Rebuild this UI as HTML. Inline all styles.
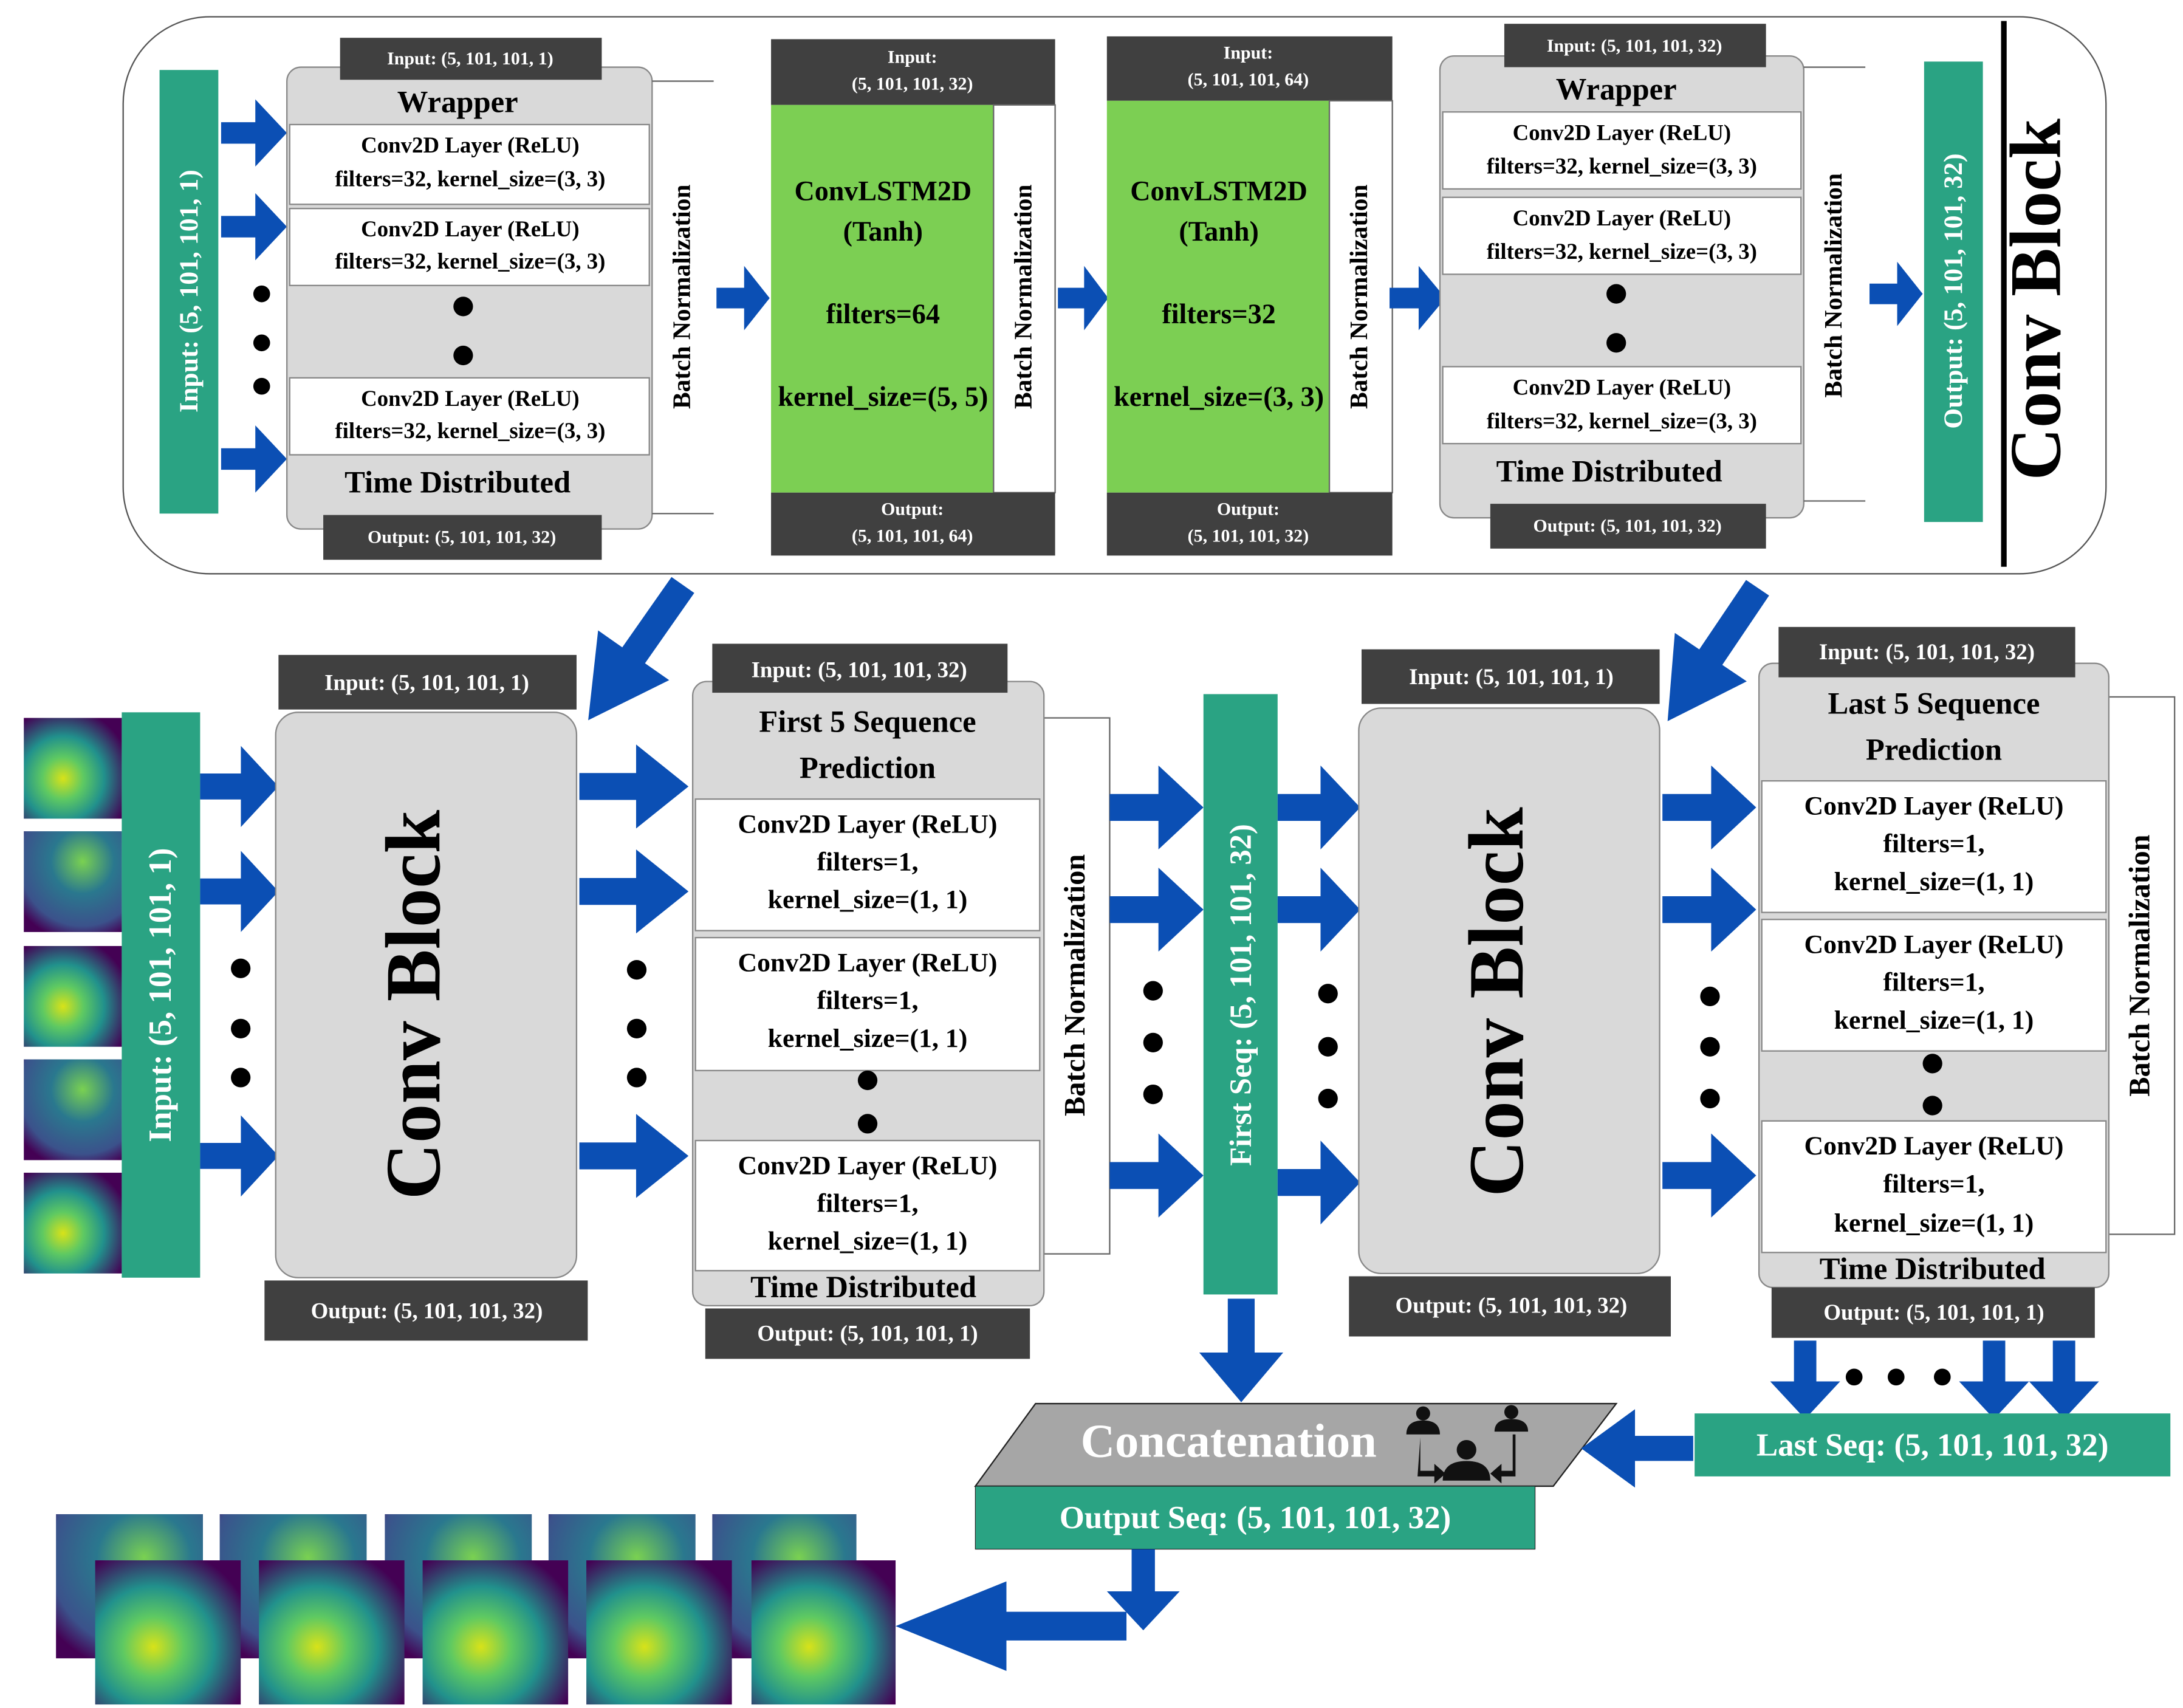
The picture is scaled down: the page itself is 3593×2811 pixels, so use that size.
<!DOCTYPE html>
<html><head><meta charset="utf-8"><style>html,body{margin:0;padding:0;background:#fff}svg{display:block}text{font-family:"Liberation Serif",serif;font-weight:bold}</style></head><body>
<svg width="3593" height="2811" viewBox="0 0 1560 1220.5" xmlns="http://www.w3.org/2000/svg">
<defs>
<path id="ar" d="M0,-0.16 H0.52 V-0.5 L1,0 L0.52,0.5 V0.16 H0 Z" fill="#0b4fb4"/>
<radialGradient id="g1" cx="0.4" cy="0.6" r="0.7"><stop offset="0" stop-color="#d8e219"/><stop offset="0.3" stop-color="#5ec962"/><stop offset="0.6" stop-color="#21918c"/><stop offset="1" stop-color="#440154"/></radialGradient>
<radialGradient id="g2" cx="0.6" cy="0.3" r="0.8"><stop offset="0" stop-color="#7ad151"/><stop offset="0.4" stop-color="#2a788e"/><stop offset="0.8" stop-color="#3b528b"/><stop offset="1" stop-color="#440154"/></radialGradient>
</defs>
<g fill="#000">
<rect x="88" y="12" width="1417" height="398" rx="62" fill="#fff" stroke="#555" stroke-width="1"/>
<rect x="114" y="50" width="42" height="317" fill="#2aa383"/>
<text transform="translate(141,208) rotate(-90)" text-anchor="middle" font-size="19" fill="#fff">Input: (5, 101, 101, 1)</text>
<use href="#ar" transform="translate(158,95) scale(47,48)"/>
<use href="#ar" transform="translate(158,162) scale(47,48)"/>
<use href="#ar" transform="translate(158,328) scale(47,48)"/>
<circle cx="187" cy="210" r="6"/><circle cx="187" cy="245" r="6"/><circle cx="187" cy="276" r="6"/>
<rect x="205" y="48" width="261" height="330" rx="10" fill="#d9d9d9" stroke="#888"/>
<text x="327" y="80" text-anchor="middle" font-size="22">Wrapper</text>
<rect x="207" y="89" width="257" height="57" fill="#fff" stroke="#888"/>
<text x="336" y="109" text-anchor="middle" font-size="16">Conv2D Layer (ReLU)</text><text x="336" y="133" text-anchor="middle" font-size="16">filters=32, kernel_size=(3, 3)</text>
<rect x="207" y="149" width="257" height="55" fill="#fff" stroke="#888"/>
<text x="336" y="169" text-anchor="middle" font-size="16">Conv2D Layer (ReLU)</text><text x="336" y="192" text-anchor="middle" font-size="16">filters=32, kernel_size=(3, 3)</text>
<circle cx="331" cy="219" r="7"/><circle cx="331" cy="254" r="7"/>
<rect x="207" y="270" width="257" height="55" fill="#fff" stroke="#888"/>
<text x="336" y="290" text-anchor="middle" font-size="16">Conv2D Layer (ReLU)</text><text x="336" y="313" text-anchor="middle" font-size="16">filters=32, kernel_size=(3, 3)</text>
<text x="327" y="352" text-anchor="middle" font-size="22">Time Distributed</text>
<rect x="243" y="27" width="187" height="30" fill="#404040"/><text x="336" y="46" text-anchor="middle" font-size="13" fill="#fff">Input: (5, 101, 101, 1)</text>
<rect x="231" y="368" width="199" height="32" fill="#404040"/><text x="330" y="388" text-anchor="middle" font-size="13" fill="#fff">Output: (5, 101, 101, 32)</text>
<path d="M466,58 H510 M466,367 H510" stroke="#666" fill="none"/>
<text transform="translate(493,212) rotate(-90)" text-anchor="middle" font-size="18">Batch Normalization</text>
<use href="#ar" transform="translate(512,213) scale(38,46)"/>
<rect x="551" y="28" width="203" height="47" fill="#404040"/>
<text x="652" y="45" text-anchor="middle" font-size="13" fill="#fff">Input:</text><text x="652" y="64" text-anchor="middle" font-size="13" fill="#fff">(5, 101, 101, 32)</text>
<rect x="551" y="75" width="159" height="277" fill="#7ccf53"/><rect x="710" y="75" width="44" height="277" fill="#fff" stroke="#666"/>
<text x="631" y="143" text-anchor="middle" font-size="20">ConvLSTM2D</text><text x="631" y="172" text-anchor="middle" font-size="20">(Tanh)</text>
<text x="631" y="231" text-anchor="middle" font-size="20">filters=64</text><text x="631" y="290" text-anchor="middle" font-size="20">kernel_size=(5, 5)</text>
<text transform="translate(737,212) rotate(-90)" text-anchor="middle" font-size="18">Batch Normalization</text>
<rect x="551" y="352" width="203" height="45" fill="#404040"/>
<text x="652" y="368" text-anchor="middle" font-size="13" fill="#fff">Output:</text><text x="652" y="387" text-anchor="middle" font-size="13" fill="#fff">(5, 101, 101, 64)</text>
<use href="#ar" transform="translate(756,213) scale(36,46)"/>
<rect x="791" y="26" width="204" height="46" fill="#404040"/>
<text x="892" y="42" text-anchor="middle" font-size="13" fill="#fff">Input:</text><text x="892" y="61" text-anchor="middle" font-size="13" fill="#fff">(5, 101, 101, 64)</text>
<rect x="791" y="72" width="159" height="280" fill="#7ccf53"/><rect x="950" y="72" width="45" height="280" fill="#fff" stroke="#666"/>
<text x="871" y="143" text-anchor="middle" font-size="20">ConvLSTM2D</text><text x="871" y="172" text-anchor="middle" font-size="20">(Tanh)</text>
<text x="871" y="231" text-anchor="middle" font-size="20">filters=32</text><text x="871" y="290" text-anchor="middle" font-size="20">kernel_size=(3, 3)</text>
<text transform="translate(977,212) rotate(-90)" text-anchor="middle" font-size="18">Batch Normalization</text>
<rect x="791" y="352" width="204" height="45" fill="#404040"/>
<text x="892" y="368" text-anchor="middle" font-size="13" fill="#fff">Output:</text><text x="892" y="387" text-anchor="middle" font-size="13" fill="#fff">(5, 101, 101, 32)</text>
<use href="#ar" transform="translate(993,213) scale(40,46)"/>
<rect x="1029" y="40" width="260" height="330" rx="10" fill="#d9d9d9" stroke="#888"/>
<text x="1155" y="71" text-anchor="middle" font-size="22">Wrapper</text>
<rect x="1031" y="80" width="256" height="55" fill="#fff" stroke="#888"/>
<text x="1159" y="100" text-anchor="middle" font-size="16">Conv2D Layer (ReLU)</text><text x="1159" y="124" text-anchor="middle" font-size="16">filters=32, kernel_size=(3, 3)</text>
<rect x="1031" y="141" width="256" height="55" fill="#fff" stroke="#888"/>
<text x="1159" y="161" text-anchor="middle" font-size="16">Conv2D Layer (ReLU)</text><text x="1159" y="185" text-anchor="middle" font-size="16">filters=32, kernel_size=(3, 3)</text>
<circle cx="1155" cy="210" r="7"/><circle cx="1155" cy="245" r="7"/>
<rect x="1031" y="262" width="256" height="55" fill="#fff" stroke="#888"/>
<text x="1159" y="282" text-anchor="middle" font-size="16">Conv2D Layer (ReLU)</text><text x="1159" y="306" text-anchor="middle" font-size="16">filters=32, kernel_size=(3, 3)</text>
<text x="1150" y="344" text-anchor="middle" font-size="22">Time Distributed</text>
<rect x="1075" y="17" width="187" height="31" fill="#404040"/><text x="1168" y="37" text-anchor="middle" font-size="13" fill="#fff">Input: (5, 101, 101, 32)</text>
<rect x="1065" y="360" width="197" height="32" fill="#404040"/><text x="1163" y="380" text-anchor="middle" font-size="13" fill="#fff">Output: (5, 101, 101, 32)</text>
<path d="M1289,48 H1333 M1289,358 H1333" stroke="#666" fill="none"/>
<text transform="translate(1316,204) rotate(-90)" text-anchor="middle" font-size="18">Batch Normalization</text>
<use href="#ar" transform="translate(1336,210) scale(38,46)"/>
<rect x="1375" y="44" width="42" height="329" fill="#2aa383"/>
<text transform="translate(1402,208) rotate(-90)" text-anchor="middle" font-size="19" fill="#fff">Output: (5, 101, 101, 32)</text>
<rect x="1430" y="15" width="4" height="390"/>
<text transform="translate(1472,214) rotate(-90)" text-anchor="middle" font-size="52">Conv Block</text>
<use href="#ar" transform="translate(488,418) rotate(125) scale(118,62)"/>
<use href="#ar" transform="translate(1256,420) rotate(124) scale(115,62)"/>
<rect x="17" y="513" width="70" height="72" fill="url(#g1)"/>
<rect x="17" y="594" width="70" height="72" fill="url(#g2)"/>
<rect x="17" y="676" width="70" height="72" fill="url(#g1)"/>
<rect x="17" y="757" width="70" height="72" fill="url(#g2)"/>
<rect x="17" y="838" width="70" height="72" fill="url(#g1)"/>
<rect x="87" y="509" width="56" height="404" fill="#2aa383"/>
<text transform="translate(122,711) rotate(-90)" text-anchor="middle" font-size="23" fill="#fff">Input: (5, 101, 101, 1)</text>
<use href="#ar" transform="translate(143,562) scale(56,58)"/>
<use href="#ar" transform="translate(143,637) scale(56,58)"/>
<use href="#ar" transform="translate(143,826) scale(56,58)"/>
<circle cx="172" cy="692" r="7"/><circle cx="172" cy="735" r="7"/><circle cx="172" cy="770" r="7"/>
<rect x="199" y="468" width="213" height="39" fill="#404040"/><text x="305" y="493" text-anchor="middle" font-size="16" fill="#fff">Input: (5, 101, 101, 1)</text>
<rect x="197" y="509" width="215" height="404" rx="16" fill="#d9d9d9" stroke="#888"/>
<text transform="translate(314,718) rotate(-90)" text-anchor="middle" font-size="56">Conv Block</text>
<rect x="189" y="915" width="231" height="43" fill="#404040"/><text x="305" y="942" text-anchor="middle" font-size="16" fill="#fff">Output: (5, 101, 101, 32)</text>
<use href="#ar" transform="translate(414,562) scale(78,60)"/>
<use href="#ar" transform="translate(414,637) scale(78,60)"/>
<use href="#ar" transform="translate(414,826) scale(78,60)"/>
<circle cx="455" cy="693" r="7"/><circle cx="455" cy="735" r="7"/><circle cx="455" cy="770" r="7"/>
<rect x="746" y="513" width="47" height="383" fill="#fff" stroke="#666"/>
<text transform="translate(775,704) rotate(-90)" text-anchor="middle" font-size="21">Batch Normalization</text>
<rect x="495" y="487" width="251" height="446" rx="10" fill="#d9d9d9" stroke="#888"/>
<text x="620" y="523" text-anchor="middle" font-size="22">First 5 Sequence</text><text x="620" y="556" text-anchor="middle" font-size="22">Prediction</text>
<rect x="497" y="571" width="246" height="94" fill="#fff" stroke="#888"/>
<text x="620" y="595" text-anchor="middle" font-size="19">Conv2D Layer (ReLU)</text><text x="620" y="622" text-anchor="middle" font-size="19">filters=1,</text><text x="620" y="649" text-anchor="middle" font-size="19">kernel_size=(1, 1)</text>
<rect x="497" y="670" width="246" height="95" fill="#fff" stroke="#888"/>
<text x="620" y="694" text-anchor="middle" font-size="19">Conv2D Layer (ReLU)</text><text x="620" y="721" text-anchor="middle" font-size="19">filters=1,</text><text x="620" y="748" text-anchor="middle" font-size="19">kernel_size=(1, 1)</text>
<circle cx="620" cy="772" r="7"/><circle cx="620" cy="803" r="7"/>
<rect x="497" y="815" width="246" height="93" fill="#fff" stroke="#888"/>
<text x="620" y="839" text-anchor="middle" font-size="19">Conv2D Layer (ReLU)</text><text x="620" y="866" text-anchor="middle" font-size="19">filters=1,</text><text x="620" y="893" text-anchor="middle" font-size="19">kernel_size=(1, 1)</text>
<text x="617" y="927" text-anchor="middle" font-size="22">Time Distributed</text>
<rect x="509" y="460" width="211" height="35" fill="#404040"/><text x="614" y="484" text-anchor="middle" font-size="16" fill="#fff">Input: (5, 101, 101, 32)</text>
<rect x="504" y="935" width="232" height="36" fill="#404040"/><text x="620" y="958" text-anchor="middle" font-size="16" fill="#fff">Output: (5, 101, 101, 1)</text>
<use href="#ar" transform="translate(793,577) scale(67,60)"/>
<use href="#ar" transform="translate(793,650) scale(67,60)"/>
<use href="#ar" transform="translate(793,840) scale(67,60)"/>
<circle cx="824" cy="708" r="7"/><circle cx="824" cy="745" r="7"/><circle cx="824" cy="782" r="7"/>
<rect x="860" y="496" width="53" height="429" fill="#2aa383"/>
<text transform="translate(894,711) rotate(-90)" text-anchor="middle" font-size="22" fill="#fff">First Seq: (5, 101, 101, 32)</text>
<use href="#ar" transform="translate(913,577) scale(59,60)"/>
<use href="#ar" transform="translate(913,650) scale(59,60)"/>
<use href="#ar" transform="translate(913,845) scale(59,60)"/>
<circle cx="949" cy="710" r="7"/><circle cx="949" cy="748" r="7"/><circle cx="949" cy="785" r="7"/>
<rect x="973" y="464" width="213" height="39" fill="#404040"/><text x="1080" y="489" text-anchor="middle" font-size="16" fill="#fff">Input: (5, 101, 101, 1)</text>
<rect x="971" y="506" width="215" height="404" rx="16" fill="#d9d9d9" stroke="#888"/>
<text transform="translate(1088,716) rotate(-90)" text-anchor="middle" font-size="56">Conv Block</text>
<rect x="964" y="912" width="230" height="43" fill="#404040"/><text x="1080" y="938" text-anchor="middle" font-size="16" fill="#fff">Output: (5, 101, 101, 32)</text>
<use href="#ar" transform="translate(1188,577) scale(67,60)"/>
<use href="#ar" transform="translate(1188,650) scale(67,60)"/>
<use href="#ar" transform="translate(1188,840) scale(67,60)"/>
<circle cx="1222" cy="712" r="7"/><circle cx="1222" cy="748" r="7"/><circle cx="1222" cy="785" r="7"/>
<rect x="1507" y="498" width="47" height="384" fill="#fff" stroke="#666"/>
<text transform="translate(1536,690) rotate(-90)" text-anchor="middle" font-size="21">Batch Normalization</text>
<rect x="1257" y="474" width="250" height="446" rx="10" fill="#d9d9d9" stroke="#888"/>
<text x="1382" y="510" text-anchor="middle" font-size="22">Last 5 Sequence</text><text x="1382" y="543" text-anchor="middle" font-size="22">Prediction</text>
<rect x="1259" y="558" width="246" height="94" fill="#fff" stroke="#888"/>
<text x="1382" y="582" text-anchor="middle" font-size="19">Conv2D Layer (ReLU)</text><text x="1382" y="609" text-anchor="middle" font-size="19">filters=1,</text><text x="1382" y="636" text-anchor="middle" font-size="19">kernel_size=(1, 1)</text>
<rect x="1259" y="657" width="246" height="94" fill="#fff" stroke="#888"/>
<text x="1382" y="681" text-anchor="middle" font-size="19">Conv2D Layer (ReLU)</text><text x="1382" y="708" text-anchor="middle" font-size="19">filters=1,</text><text x="1382" y="735" text-anchor="middle" font-size="19">kernel_size=(1, 1)</text>
<circle cx="1381" cy="760" r="7"/><circle cx="1381" cy="790" r="7"/>
<rect x="1259" y="801" width="246" height="94" fill="#fff" stroke="#888"/>
<text x="1382" y="825" text-anchor="middle" font-size="19">Conv2D Layer (ReLU)</text><text x="1382" y="852" text-anchor="middle" font-size="19">filters=1,</text><text x="1382" y="880" text-anchor="middle" font-size="19">kernel_size=(1, 1)</text>
<text x="1381" y="914" text-anchor="middle" font-size="22">Time Distributed</text>
<rect x="1271" y="448" width="212" height="36" fill="#404040"/><text x="1377" y="471" text-anchor="middle" font-size="16" fill="#fff">Input: (5, 101, 101, 32)</text>
<rect x="1266" y="920" width="231" height="36" fill="#404040"/><text x="1382" y="943" text-anchor="middle" font-size="16" fill="#fff">Output: (5, 101, 101, 1)</text>
<use href="#ar" transform="translate(887,928) rotate(90) scale(74,60)"/>
<use href="#ar" transform="translate(1290,958) rotate(90) scale(56,50)"/>
<use href="#ar" transform="translate(1425,958) rotate(90) scale(56,50)"/>
<use href="#ar" transform="translate(1475,958) rotate(90) scale(56,50)"/>
<circle cx="1325" cy="984" r="6"/><circle cx="1355" cy="984" r="6"/><circle cx="1388" cy="984" r="6"/>
<polygon points="740,1003 1155,1003 1110,1062 697,1062" fill="#a6a6a6" stroke="#222"/>
<text x="878" y="1041" text-anchor="middle" font-size="34" fill="#fff">Concatenation</text>
<g fill="#111">
<circle cx="1017" cy="1010" r="5"/><path d="M1005,1025 Q1005,1015 1017,1015 Q1029,1015 1029,1025 Z"/>
<circle cx="1080" cy="1009" r="5"/><path d="M1068,1023 Q1068,1014 1080,1014 Q1092,1014 1092,1023 Z"/>
<circle cx="1048" cy="1036" r="7"/><path d="M1031,1058 Q1031,1044 1048,1044 Q1065,1044 1065,1058 Z"/>
<path d="M1015,1027 v24 h10 v-5 l8,7 l-8,7 v-5 h-12 z"/>
<path d="M1081,1025 v26 h-8 v-5 l-8,7 l8,7 v-5 h10 v-30 z"/>
</g>
<rect x="697" y="1062" width="400" height="45" fill="#2aa383" stroke="#222" stroke-width="0.5"/>
<text x="897" y="1092" text-anchor="middle" font-size="23" fill="#fff">Output Seq: (5, 101, 101, 32)</text>
<rect x="1211" y="1010" width="340" height="45" fill="#2aa383"/>
<text x="1381" y="1040" text-anchor="middle" font-size="23" fill="#fff">Last Seq: (5, 101, 101, 32)</text>
<use href="#ar" transform="translate(1210,1035) rotate(180) scale(80,56)"/>
<use href="#ar" transform="translate(817,1107) rotate(90) scale(58,52)"/>
<use href="#ar" transform="translate(805,1162) rotate(180) scale(165,64)"/>
<rect x="40" y="1082" width="105" height="103" fill="url(#g2)"/>
<rect x="157" y="1082" width="105" height="103" fill="url(#g2)"/>
<rect x="275" y="1082" width="105" height="103" fill="url(#g2)"/>
<rect x="392" y="1082" width="105" height="103" fill="url(#g2)"/>
<rect x="509" y="1082" width="103" height="103" fill="url(#g2)"/>
<rect x="68" y="1115" width="104" height="103" fill="url(#g1)"/>
<rect x="185" y="1115" width="104" height="103" fill="url(#g1)"/>
<rect x="302" y="1115" width="104" height="103" fill="url(#g1)"/>
<rect x="419" y="1115" width="104" height="103" fill="url(#g1)"/>
<rect x="537" y="1115" width="103" height="103" fill="url(#g1)"/>
</g>
</svg>
</body></html>
